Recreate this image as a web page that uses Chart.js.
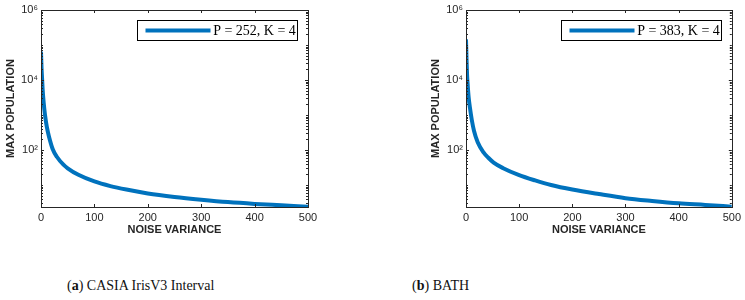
<!DOCTYPE html>
<html>
<head>
<meta charset="utf-8">
<script src="https://cdn.jsdelivr.net/npm/chart.js@4/dist/chart.umd.min.js"></script>
<style>
  body { margin: 0; background: #fff; width: 745px; height: 300px; position: relative; overflow: hidden; }
  canvas { position: absolute; top: 0; }
  .cap { position: absolute; top: 278px; font-family: 'Liberation Serif', 'DejaVu Serif', serif; font-size: 14px; color: #111; }
</style>
</head>
<body>
<canvas id="chartA" width="330" height="245" style="left:0"></canvas>
<canvas id="chartB" width="320" height="245" style="left:425px"></canvas>
<div class="cap" style="left:67px">(<b>a</b>) CASIA IrisV3 Interval</div>
<div class="cap" style="left:412px">(<b>b</b>) BATH</div>
<script>
// noise variance samples (x)
const varianceA = [0, 1, 2, 3, 5, 7.5, 11, 15, 22, 30, 42, 50, 70, 100, 130, 160, 200, 250, 300, 350, 400, 450, 500];
const varianceB = [0, 1, 2, 3, 5, 7.5, 11, 15, 22, 33, 42, 52, 70, 100, 130, 160, 200, 250, 300, 350, 400, 450, 500];

// max population
const populationA = [64600, 22400, 11200, 5620, 2240, 1000, 447, 240, 105, 63, 38, 30, 19.5, 12.6, 9.3, 7.4, 5.75, 4.57, 3.8, 3.24, 2.88, 2.63, 2.4];
const populationB = [144500, 39800, 14100, 7940, 3160, 1580, 708, 355, 166, 85, 60, 43.6, 30.2, 19.1, 13.5, 10.0, 7.41, 5.5, 4.2, 3.5, 3.0, 2.7, 2.4];

const labelA = 'P = 252, K = 4';
const labelB = 'P = 383, K = 4';

const xTicks = [0, 100, 200, 300, 400, 500];
const yTicks = [1e2, 1e4, 1e6];
const yTickLabels = ['10²', '10⁴', '10⁶'];

const axisColor = '#262626';
const lineColor = '#0072BD';

// MATLAB style box with inward ticks + framed legend
const matlabBox = {
  id: 'matlabBox',
  afterDatasetsDraw(chart) {
    const ctx = chart.ctx;
    const { left, right, top, bottom } = chart.chartArea;
    const xs = chart.scales.x, ys = chart.scales.y;
    ctx.save();
    ctx.strokeStyle = axisColor;
    ctx.lineWidth = 1;
    ctx.beginPath();
    // x ticks top and bottom
    xTicks.forEach(v => {
      const px = Math.round(xs.getPixelForValue(v)) + 0.5;
      ctx.moveTo(px, bottom); ctx.lineTo(px, bottom - 3);
      ctx.moveTo(px, top); ctx.lineTo(px, top + 3);
    });
    // y major + minor ticks left and right
    for (let d = 0; d <= 6; d++) {
      for (let m = 1; m <= 9; m++) {
        const v = m * Math.pow(10, d);
        if (v < ys.min || v > ys.max) continue;
        const py = Math.round(ys.getPixelForValue(v)) + 0.5;
        const len = (m === 1 && d % 2 === 0) ? 3 : 2;
        ctx.moveTo(left, py); ctx.lineTo(left + len, py);
        ctx.moveTo(right, py); ctx.lineTo(right - len, py);
      }
    }
    ctx.stroke();
    ctx.strokeRect(Math.round(left) + 0.5, Math.round(top) + 0.5, Math.round(right - left), Math.round(bottom - top));

    // legend
    const ds = chart.data.datasets[0];
    ctx.font = '14px "Liberation Serif", "DejaVu Serif", serif';
    const tw = ctx.measureText(ds.label).width;
    const boxW = 160, boxH = 20;
    const bx = Math.round(right - 11 - boxW) + 0.5, by = Math.round(top + 10) + 0.5;
    ctx.fillStyle = '#fff';
    ctx.fillRect(bx, by, boxW, boxH);
    ctx.strokeStyle = '#000';
    ctx.strokeRect(bx, by, boxW, boxH);
    ctx.strokeStyle = ds.borderColor;
    ctx.lineWidth = 4;
    ctx.beginPath();
    ctx.moveTo(bx + 8, by + boxH / 2);
    ctx.lineTo(bx + 73, by + boxH / 2);
    ctx.stroke();
    ctx.fillStyle = '#000';
    ctx.textBaseline = 'middle';
    ctx.fillText(ds.label, bx + 77 + (boxW - 80 - tw) / 2, by + boxH / 2 + 1);
    ctx.restore();
  }
};

function makeChart(id, xs, ys, label) {
  const ctx = document.getElementById(id).getContext('2d');
  return new Chart(ctx, {
    type: 'line',
    data: {
      datasets: [{
        label: label,
        data: xs.map((x, i) => ({ x: x, y: ys[i] })),
        borderColor: lineColor,
        borderWidth: 4,
        pointRadius: 0,
        cubicInterpolationMode: 'monotone',
        fill: false
      }]
    },
    options: {
      responsive: false,
      animation: false,
      devicePixelRatio: 1,
      layout: { padding: { top: 10, right: id === 'chartA' ? 22 : 12, left: 0, bottom: 0 } },
      plugins: { legend: { display: false }, tooltip: { enabled: false } },
      scales: {
        x: {
          type: 'linear', min: 0, max: 500,
          afterBuildTicks: s => { s.ticks = xTicks.map(v => ({ value: v })); },
          afterFit: s => { s.height = 38; },
          grid: { display: false, drawTicks: false },
          border: { display: false },
          ticks: { color: axisColor, padding: 4, maxRotation: 0, font: { family: '"Liberation Sans", Arial, sans-serif', size: 11 } },
          title: { display: true, text: 'NOISE VARIANCE', color: axisColor, padding: { top: 0, bottom: 8 },
                   font: { family: '"Liberation Sans", Arial, sans-serif', size: 11, weight: 'bold' } }
        },
        y: {
          type: 'logarithmic', min: 2.35, max: 1e6,
          afterBuildTicks: s => { s.ticks = yTicks.map(v => ({ value: v })); },
          afterFit: s => { s.width = 41; },
          grid: { display: false, drawTicks: false },
          border: { display: false },
          ticks: {
            color: axisColor, padding: 3,
            font: { family: '"Liberation Sans", Arial, sans-serif', size: 11 },
            callback: v => yTickLabels[yTicks.indexOf(v)]
          },
          title: { display: true, text: 'MAX POPULATION', color: axisColor, padding: { top: 4, bottom: 0 },
                   font: { family: '"Liberation Sans", Arial, sans-serif', size: 11, weight: 'bold' } }
        }
      }
    },
    plugins: [matlabBox]
  });
}

makeChart('chartA', varianceA, populationA, labelA);
makeChart('chartB', varianceB, populationB, labelB);
</script>
</body>
</html>
